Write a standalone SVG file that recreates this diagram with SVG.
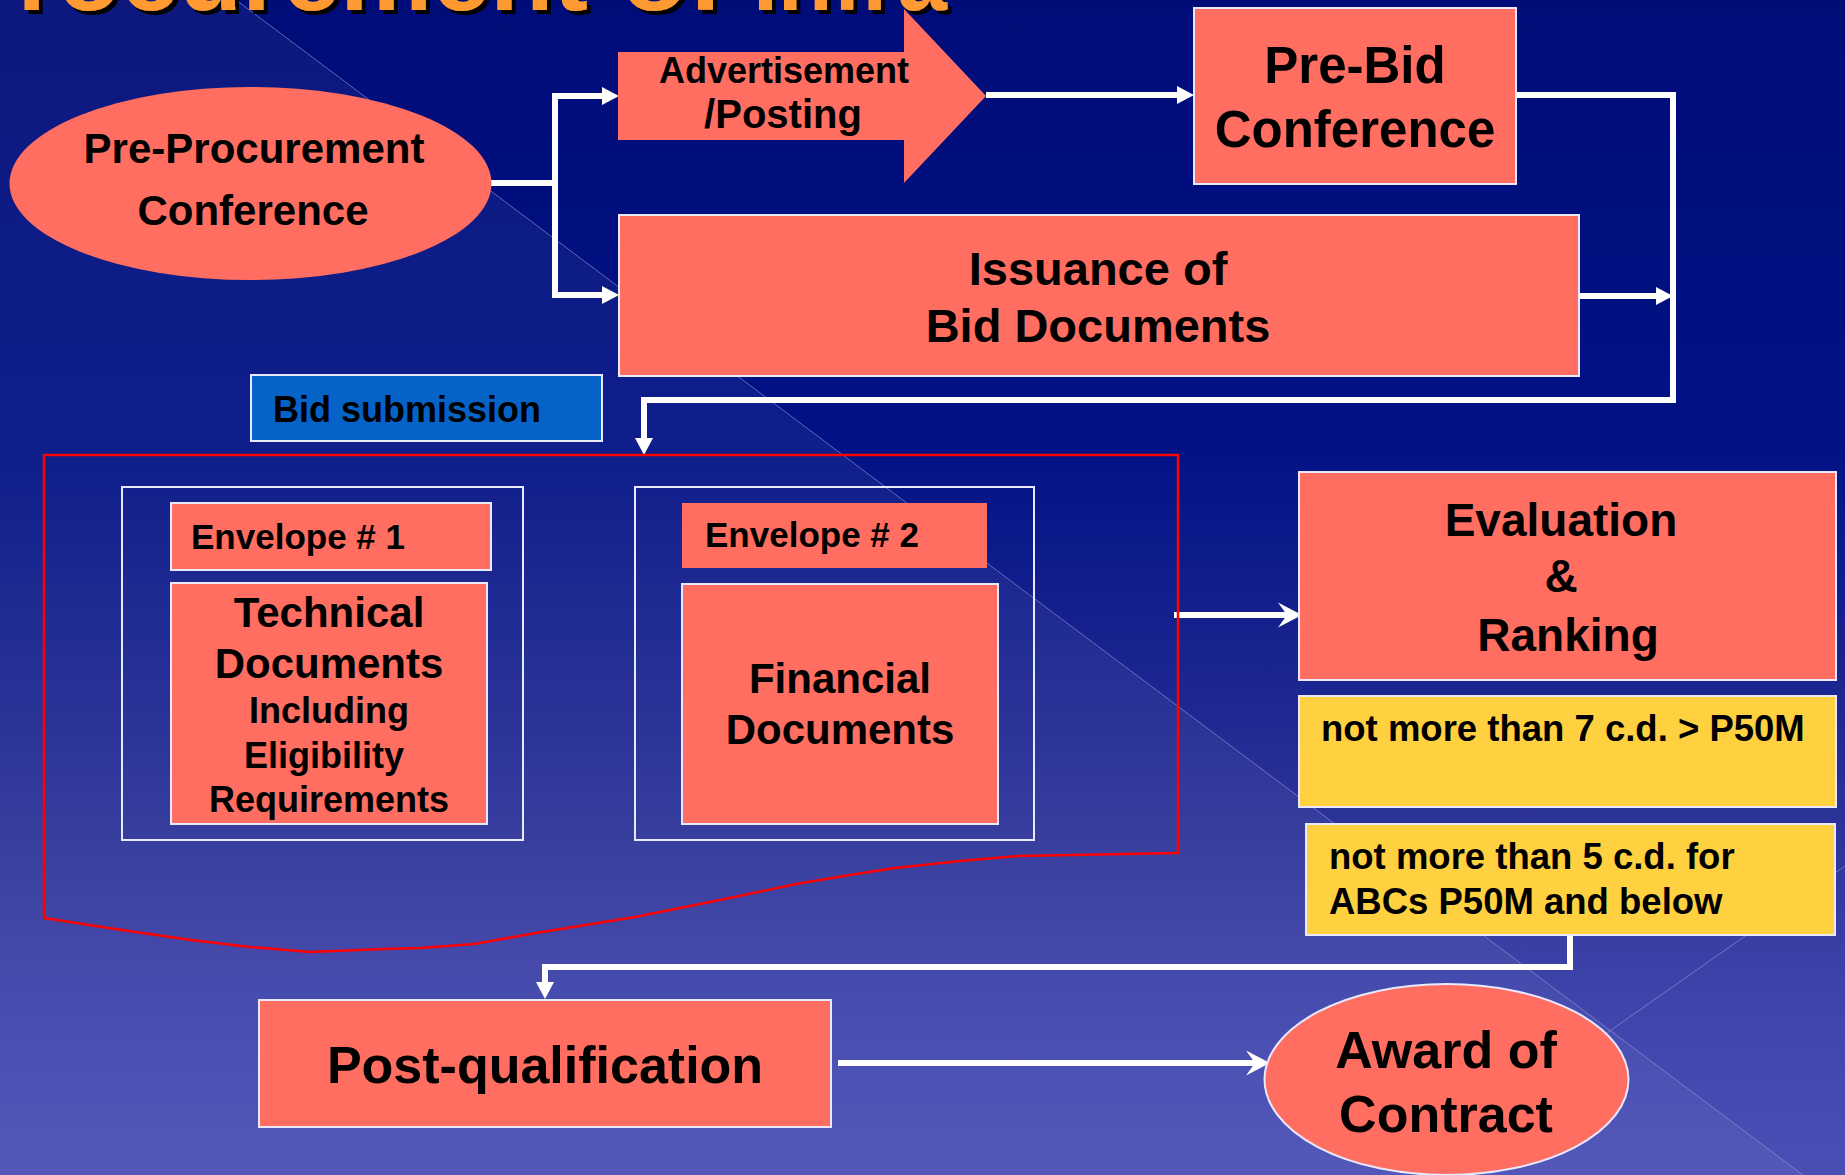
<svg xmlns="http://www.w3.org/2000/svg" width="1845" height="1175" viewBox="0 0 1845 1175">
<defs>
<linearGradient id="bg" x1="0" y1="0" x2="0" y2="1">
<stop offset="0" stop-color="#000c78"/>
<stop offset="0.38" stop-color="#021285"/>
<stop offset="0.6" stop-color="#1e2792"/>
<stop offset="0.72" stop-color="#2f3599"/>
<stop offset="0.85" stop-color="#3e44ab"/>
<stop offset="1" stop-color="#4a4fb6"/>
</linearGradient>
<filter id="shadow" x="-10%" y="-50%" width="120%" height="200%">
<feDropShadow dx="4" dy="4" stdDeviation="0" flood-color="#000" flood-opacity="1"/>
</filter>
<marker id="tri" markerUnits="userSpaceOnUse" markerWidth="20" markerHeight="20" refX="0" refY="9" orient="auto" overflow="visible">
<path d="M0,0 L17,9 L0,18 Z" fill="#fff"/>
</marker>
<marker id="barb" markerUnits="userSpaceOnUse" markerWidth="30" markerHeight="30" refX="9" refY="12.5" orient="auto" overflow="visible">
<path d="M0,0 L24,12.5 L0,25 L9,12.5 Z" fill="#fff"/>
</marker>
<style>
.box{fill:#ff6e61;stroke:#e8e8ff;stroke-width:2}
.nb{fill:#ff6e61}
.yel{fill:#ffd040;stroke:#e8e8ff;stroke-width:2}
.env{fill:none;stroke:#e8e8ff;stroke-width:2}
.t{font-family:"Liberation Sans",Arial,sans-serif;font-weight:bold;fill:#000}
.c{text-anchor:middle}
.con{fill:none;stroke:#fff;stroke-width:6}
.deco{stroke:#9a9ad8;stroke-width:1;opacity:0.6}
</style>
</defs>
<rect x="0" y="0" width="1845" height="1175" fill="url(#bg)"/>
<polygon points="0,0 236,0 1803,1175 0,1175" fill="#ffffff" opacity="0.05"/>
<line class="deco" x1="236" y1="0" x2="1803" y2="1175"/>
<line class="deco" x1="1450" y1="1143" x2="1845" y2="866"/>

<g id="connectors">
<path class="con" d="M491,183 H555 V96 H602" marker-end="url(#tri)"/>
<path class="con" d="M555,180 V295 H602" marker-end="url(#tri)"/>
<path class="con" d="M986,95 H1177" marker-end="url(#tri)"/>
<path class="con" d="M1516,95 H1673 V400 H644 V438" marker-end="url(#tri)"/>
<path class="con" d="M1579,296 H1656" marker-end="url(#tri)"/>
<path class="con" d="M1174,615 H1287" marker-end="url(#barb)"/>
<path class="con" d="M1570,935 V967 H545 V982" marker-end="url(#tri)"/>
<path class="con" d="M838,1063 H1255" marker-end="url(#barb)"/>
</g>

<g id="pre-procurement">
<ellipse class="nb" cx="250.5" cy="183.5" rx="241" ry="96.5"/>
<text class="t c" font-size="42" x="254" y="163">Pre-Procurement</text>
<text class="t c" font-size="42" x="253" y="225">Conference</text>
</g>

<g id="advertisement">
<polygon class="nb" points="618,52 904,52 904,9 986,96 904,183 904,140 618,140"/>
<text class="t c" font-size="36" x="784" y="83">Advertisement</text>
<text class="t c" font-size="40" x="783" y="128">/Posting</text>
</g>

<g id="title">
<text class="t" font-size="100" style="fill:#ff9933" filter="url(#shadow)"><tspan x="-52" y="10" textLength="640" lengthAdjust="spacingAndGlyphs">Procurement</tspan><tspan x="621" y="10" textLength="103" lengthAdjust="spacingAndGlyphs">of</tspan><tspan x="753" y="10" textLength="194" lengthAdjust="spacingAndGlyphs">Infra</tspan></text>
</g>

<g id="pre-bid">
<rect class="box" x="1194" y="8" width="322" height="176"/>
<text class="t c" font-size="51" x="1355" y="83">Pre-Bid</text>
<text class="t c" font-size="51" x="1355" y="147">Conference</text>
</g>

<g id="issuance">
<rect class="box" x="619" y="215" width="960" height="161"/>
<text class="t c" font-size="47" x="1098" y="285">Issuance of</text>
<text class="t c" font-size="47" x="1098" y="342">Bid Documents</text>
</g>

<g id="bid-submission">
<rect x="251" y="375" width="351" height="66" fill="#0563c8" stroke="#e8e8ff" stroke-width="2"/>
<text class="t" font-size="36" x="273" y="422">Bid submission</text>
</g>

<g id="bid-package">
<path d="M44,455 H1178 V853 L1018,856 L960,861 L895,868 L850,875 L796,884 L720,900 L635,917 L536,933 L474,944 L420,948 L383,949 L310,952 L250,947 L191,940 L122,930 L44,918 Z" fill="none" stroke="#ff0000" stroke-width="2.5" stroke-linejoin="round"/>
</g>

<g id="envelope-1">
<rect class="env" x="122" y="487" width="401" height="353"/>
<rect class="box" x="171" y="503" width="320" height="67"/>
<text class="t" font-size="35" x="191" y="549">Envelope # 1</text>
<rect class="box" x="171" y="583" width="316" height="241"/>
<text class="t c" font-size="42" x="329" y="627">Technical</text>
<text class="t c" font-size="42" x="329" y="678">Documents</text>
<text class="t c" font-size="36" x="329" y="723">Including</text>
<text class="t c" font-size="36" x="324" y="768">Eligibility</text>
<text class="t c" font-size="36" x="329" y="812">Requirements</text>
</g>

<g id="envelope-2">
<rect class="env" x="635" y="487" width="399" height="353"/>
<rect class="nb" x="682" y="503" width="305" height="65"/>
<text class="t" font-size="35" x="705" y="547">Envelope # 2</text>
<rect class="box" x="682" y="584" width="316" height="240"/>
<text class="t c" font-size="42" x="840" y="693">Financial</text>
<text class="t c" font-size="42" x="840" y="744">Documents</text>
</g>

<g id="evaluation">
<rect class="box" x="1299" y="472" width="537" height="208"/>
<text class="t c" font-size="46" x="1561" y="536">Evaluation</text>
<text class="t c" font-size="46" x="1561" y="592">&amp;</text>
<text class="t c" font-size="46" x="1568" y="651">Ranking</text>
</g>

<g id="note-7cd">
<rect class="yel" x="1299" y="696" width="537" height="111"/>
<text class="t" font-size="36.5" x="1321" y="741">not more than 7 c.d. &gt; P50M</text>
</g>

<g id="note-5cd">
<rect class="yel" x="1306" y="824" width="529" height="111"/>
<text class="t" font-size="36.5" x="1329" y="869">not more than 5 c.d. for</text>
<text class="t" font-size="36.5" x="1329" y="914">ABCs P50M and below</text>
</g>

<g id="post-qualification">
<rect class="box" x="259" y="1000" width="572" height="127"/>
<text class="t c" font-size="52" x="545" y="1083">Post-qualification</text>
</g>

<g id="award">
<ellipse class="box" cx="1446.5" cy="1079.5" rx="182" ry="95.5"/>
<text class="t c" font-size="52" x="1446" y="1068">Award of</text>
<text class="t c" font-size="52" x="1446" y="1132">Contract</text>
</g>
</svg>
